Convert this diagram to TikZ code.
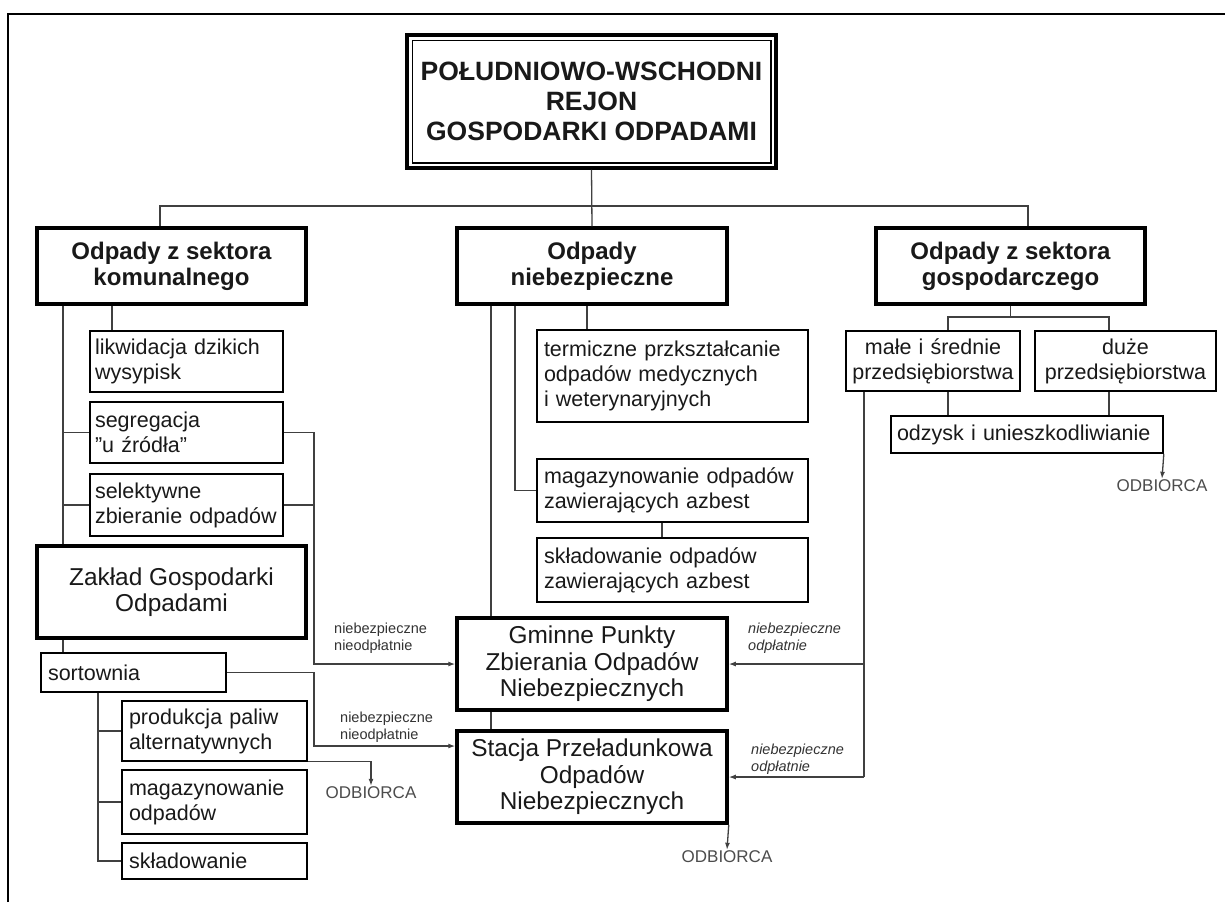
\documentclass[tikz,border=0pt]{standalone}
\usepackage{fontspec}
\setmainfont{Liberation Sans}
\usetikzlibrary{arrows.meta}
\begin{document}
\begin{tikzpicture}[x=1pt,y=-1pt,
  conn/.style={line width=1.3pt, draw=black!75},
  arr/.style={conn, -{Latex[length=7pt,width=5pt]}},
  thickbox/.style={draw, line width=3.5pt, fill=white, align=center, inner sep=2pt, text=black!90},
  thinbox/.style={draw, line width=1.6pt, fill=white, inner xsep=7pt, inner ysep=2pt, align=left, text=black!90, font=\fontsize{21.5}{25}\selectfont},
  lvlone/.style={thickbox, font=\bfseries\fontsize{24}{26}\selectfont, minimum width=269pt, minimum height=76pt},
  bigbox/.style={thickbox, font=\fontsize{24.4}{26.5}\selectfont, minimum width=270pt, minimum height=92pt},
  lbl/.style={inner sep=0pt, align=left, text=black!80, font=\fontsize{14.5}{17}\selectfont},
  ilbl/.style={lbl, font=\itshape\fontsize{14.5}{17}\selectfont},
  odb/.style={inner sep=1pt, text=black!70, font=\fontsize{17}{20}\selectfont}
]
\useasboundingbox (0,0) rectangle (1225,902);
\fill[white] (0,0) rectangle (1225,902);
% frame
\draw[line width=2.5pt] (8,902) -- (8,14) -- (1225,14);

% title
\node[draw, line width=3.5pt, fill=white, minimum width=369pt, minimum height=133pt, align=center,
      font=\bfseries\fontsize{26.5}{30}\selectfont, text=black!90] (title) at (591.5,101.5)
      {POŁUDNIOWO-WSCHODNI\\REJON\\GOSPODARKI ODPADAMI};
\draw[line width=1.5pt] ([shift={(7,7)}]title.north west) rectangle ([shift={(-7,-7)}]title.south east);

% level one
\node[lvlone] (kom) at (171.5,266) {Odpady z sektora\\komunalnego};
\node[lvlone, minimum width=270pt] (nieb) at (592,266) {Odpady\\niebezpieczne};
\node[lvlone] (gosp) at (1010.5,266) {Odpady z sektora\\gospodarczego};

% left column
\node[thinbox, inner xsep=5pt, text width=183pt, minimum height=61pt] (likw) at (186.5,361.5) {likwidacja dzikich\\wysypisk};
\node[thinbox, inner xsep=5pt, text width=183pt, minimum height=61pt] (seg) at (186.5,432.5) {segregacja\\\symbol{34}u źródła\symbol{34}};
\node[thinbox, inner xsep=5pt, text width=183pt, minimum height=62pt] (sel) at (186.5,505) {selektywne\\zbieranie odpadów};
\node[bigbox, minimum width=269pt] (zak) at (171.5,592) {Zakład Gospodarki\\Odpadami};
\node[thinbox, text width=171pt, minimum height=39pt] (sort) at (133.5,672.5) {sortownia};
\node[thinbox, text width=171pt, minimum height=60pt] (prod) at (214.5,731) {produkcja paliw\\alternatywnych};
\node[thinbox, text width=171pt, minimum height=64pt] (magl) at (214.5,802) {magazynowanie\\odpadów};
\node[thinbox, text width=171pt, minimum height=36pt] (skll) at (214.5,861) {składowanie};

% middle column
\node[thinbox, text width=257pt, minimum height=92pt] (term) at (672.5,376) {termiczne przkształcanie\\odpadów medycznych\\i weterynaryjnych};
\node[thinbox, text width=257pt, minimum height=63pt] (mag) at (672.5,490.5) {magazynowanie odpadów\\zawierających azbest};
\node[thinbox, text width=257pt, minimum height=64pt] (skl) at (672.5,570) {składowanie odpadów\\zawierających azbest};
\node[bigbox] (gmin) at (592,664) {Gminne Punkty\\Zbierania Odpadów\\Niebezpiecznych};
\node[bigbox] (stac) at (592,777) {Stacja Przeładunkowa\\Odpadów\\Niebezpiecznych};

% right column
\node[thinbox, align=center, inner xsep=2pt, text width=170pt, minimum height=60pt] (male) at (933,361) {małe i średnie\\przedsiębiorstwa};
\node[thinbox, align=center, inner xsep=2pt, text width=177pt, minimum height=60pt] (duze) at (1125.5,361) {duże\\przedsiębiorstwa};
\node[thinbox, inner xsep=6pt, text width=260pt, minimum height=37pt] (odz) at (1027,434.5) {odzysk i unieszkodliwianie};

% receivers
\node[odb] (odb1) at (1162,486) {ODBIORCA};
\node[odb] (odb2) at (727,857) {ODBIORCA};
\node[odb] (odb3) at (371,793) {ODBIORCA};

% labels
\node[lbl, anchor=west] (lb1) at (334,638) {niebezpieczne\\nieodpłatnie};
\node[lbl, anchor=west] (lb2) at (340,727) {niebezpieczne\\nieodpłatnie};
\node[ilbl, anchor=west] (lb3) at (748,638) {niebezpieczne\\odpłatnie};
\node[ilbl, anchor=west] (lb4) at (751,759) {niebezpieczne\\odpłatnie};

% helper coordinates
\coordinate (busL) at (160,206);
\coordinate (busR) at (1028,206);
\coordinate (xa) at (63,0);
\coordinate (xb) at (112,0);
\coordinate (xr) at (314,0);
\coordinate (xs) at (98,0);
\coordinate (xm1) at (491,0);
\coordinate (xm2) at (515,0);
\coordinate (xm3) at (587,0);
\coordinate (xm4) at (662,0);
\coordinate (xg1) at (948,0);
\coordinate (xg2) at (1109,0);
\coordinate (xg3) at (864,0);
\coordinate (gbus) at (0,317);

% connectors top
\draw[conn] (title.south) -- (nieb.north);
\draw[conn] (kom.north -| busL) -- (busL) -- (busR) -- (gosp.north -| busR);

% left column connectors
\draw[conn] (kom.south -| xb) -- (likw.north -| xb);
\draw[conn] (kom.south -| xa) -- (zak.north -| xa);
\draw[conn] (seg.west -| xa) -- (seg.west);
\draw[conn] (sel.west -| xa) -- (sel.west);
\draw[arr] (seg.east) -- (seg.east -| xr) -- (gmin.west -| xr) -- (gmin.west);
\draw[conn] (sel.east) -- (sel.east -| xr);
\draw[conn] (zak.south -| xa) -- (sort.north -| xa);
\coordinate (stIn) at ([yshift=31pt]stac.west);
\draw[arr] (sort.east) -- (sort.east -| xr) -- (stIn -| xr) -- (stIn);
\draw[conn] (sort.south -| xs) -- (skll.west -| xs) -- (skll.west);
\draw[conn] (prod.west -| xs) -- (prod.west);
\draw[conn] (magl.west -| xs) -- (magl.west);
\draw[arr] (prod.south east) -- (prod.south east -| odb3) -- (odb3.north);

% middle column connectors
\draw[conn] (nieb.south -| xm1) -- (gmin.north -| xm1);
\draw[conn] (gmin.south -| xm1) -- (stac.north -| xm1);
\draw[conn] (nieb.south -| xm2) -- (mag.west -| xm2) -- (mag.west);
\draw[conn] (nieb.south -| xm3) -- (term.north -| xm3);
\draw[conn] (mag.south -| xm4) -- (skl.north -| xm4);
\draw[arr] (stac.south east) -- (odb2.north);

% right column connectors
\draw[conn] (gosp.south) -- (gbus -| gosp.south);
\draw[conn] (male.north -| xg1) -- (gbus -| xg1) -- (gbus -| xg2) -- (duze.north -| xg2);
\draw[conn] (male.south -| xg1) -- (odz.north -| xg1);
\draw[conn] (duze.south -| xg2) -- (odz.north -| xg2);
\draw[arr] (odz.south east) -- (odb1.north);
\draw[conn] (male.south -| xg3) -- (stac.east -| xg3);
\draw[arr] (gmin.east -| xg3) -- (gmin.east);
\draw[arr] (stac.east -| xg3) -- (stac.east);
\end{tikzpicture}
\end{document}
